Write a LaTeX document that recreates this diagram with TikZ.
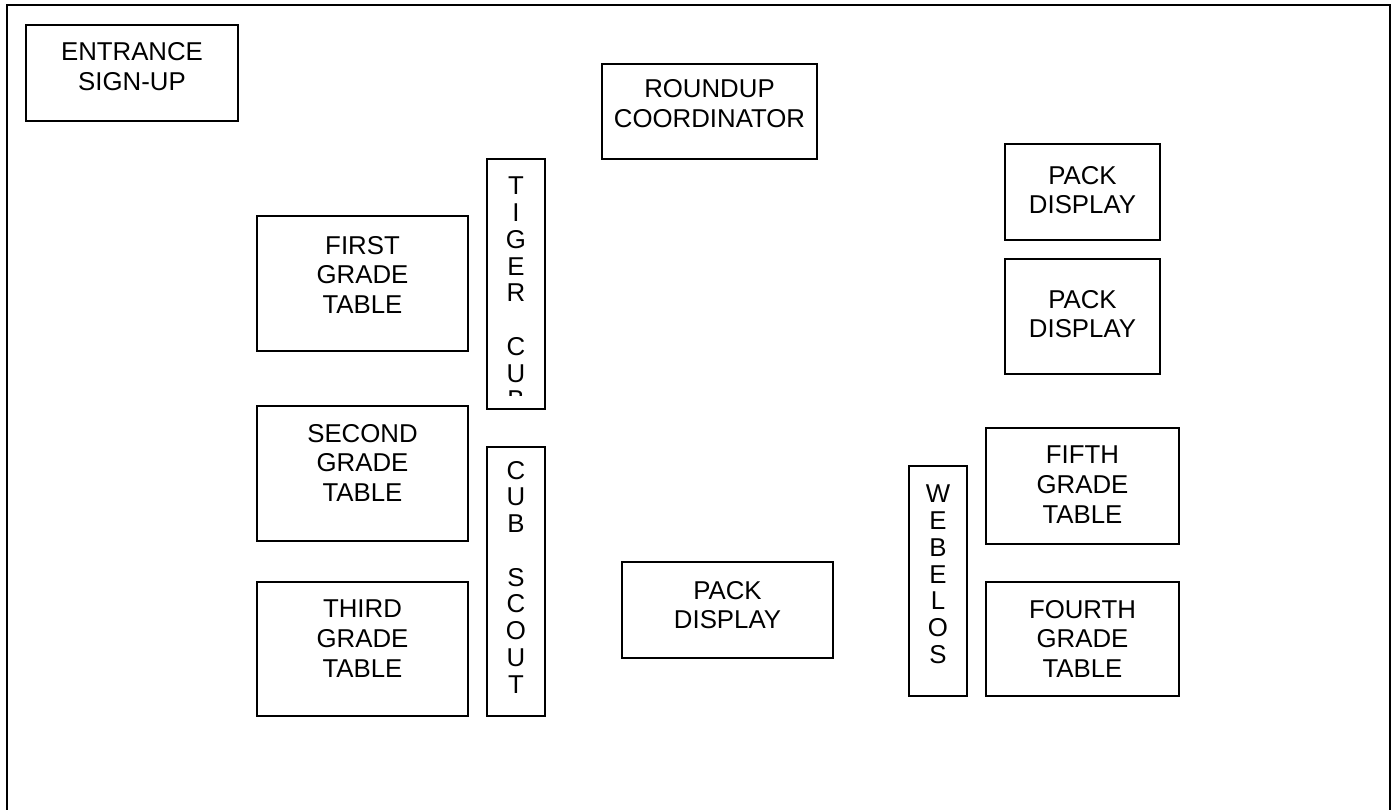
\documentclass[tikz,border=0pt]{standalone}
\usepackage{fontspec}
\setmainfont{Liberation Sans}
\begin{document}
\begin{tikzpicture}[x=1pt,y=-1pt,
  box/.style={draw=black, line width=1.5pt, rectangle, inner sep=0pt},
  lbl/.style={align=center, inner sep=0pt, anchor=north, font=\fontsize{25.8}{29.7}\selectfont},
  vlbl/.style={align=center, inner sep=0pt, anchor=north, font=\fontsize{25.8}{26.75}\selectfont},
  frame/.style={draw=black, line width=2pt}]
\useasboundingbox (0,0) rectangle (1396,810);
\fill[white] (0,0) rectangle (1396,810);
% outer frame (open at the bottom)
\coordinate (fbl) at (7,820);
\coordinate (ftl) at (7,5);
\coordinate (ftr) at (1390,5);
\coordinate (fbr) at (1390,820);
\draw[frame] (fbl) -- (ftl) -- (ftr) -- (fbr);
% boxes
\node[box, minimum width=212pt, minimum height=96pt] (entr) at (132,73) {};
\node[lbl] (entrT) at (132,42.5) {ENTRANCE\\SIGN-UP};
\node[box, minimum width=215pt, minimum height=95pt] (round) at (709.5,111.5) {};
\node[lbl] (roundT) at (709.5,79.5) {ROUNDUP\\COORDINATOR};
\node[box, minimum width=155pt, minimum height=96pt] (packa) at (1082.5,192) {};
\node[lbl] (packaT) at (1082.5,166) {PACK\\DISPLAY};
\node[box, minimum width=155pt, minimum height=115pt] (packb) at (1082.5,316.5) {};
\node[lbl] (packbT) at (1082.5,290) {PACK\\DISPLAY};
\node[box, minimum width=211pt, minimum height=135pt] (first) at (362.5,283.5) {};
\node[lbl] (firstT) at (362.5,236) {FIRST\\GRADE\\TABLE};
\node[box, minimum width=211pt, minimum height=135pt] (second) at (362.5,473.5) {};
\node[lbl] (secondT) at (362.5,424) {SECOND\\GRADE\\TABLE};
\node[box, minimum width=211pt, minimum height=134pt] (third) at (362.5,649) {};
\node[lbl] (thirdT) at (362.5,600) {THIRD\\GRADE\\TABLE};
\node[box, minimum width=211pt, minimum height=96pt] (packc) at (727.5,610) {};
\node[lbl] (packcT) at (727.5,581) {PACK\\DISPLAY};
\node[box, minimum width=193pt, minimum height=116pt] (fifth) at (1082.5,486) {};
\node[lbl] (fifthT) at (1082.5,446) {FIFTH\\GRADE\\TABLE};
\node[box, minimum width=193pt, minimum height=114pt] (fourth) at (1082.5,639) {};
\node[lbl] (fourthT) at (1082.5,600) {FOURTH\\GRADE\\TABLE};
% vertical boxes
\node[box, minimum width=58pt, minimum height=250pt] (tiger) at (516,284) {};
\begin{scope}
  \clip (488,160) rectangle (544,395);
  \node[vlbl] (tigerT) at (516,177) {T\\I\\G\\E\\R\\\mbox{}\\C\\U\\B};
\end{scope}
\node[box, minimum width=58pt, minimum height=269pt] (cub) at (516,581.5) {};
\node[vlbl] (cubT) at (516,461) {C\\U\\B\\\mbox{}\\S\\C\\O\\U\\T};
\node[box, minimum width=58pt, minimum height=230pt] (web) at (938,581) {};
\node[vlbl] (webT) at (938,485) {W\\E\\B\\E\\L\\O\\S};
\end{tikzpicture}
\end{document}
